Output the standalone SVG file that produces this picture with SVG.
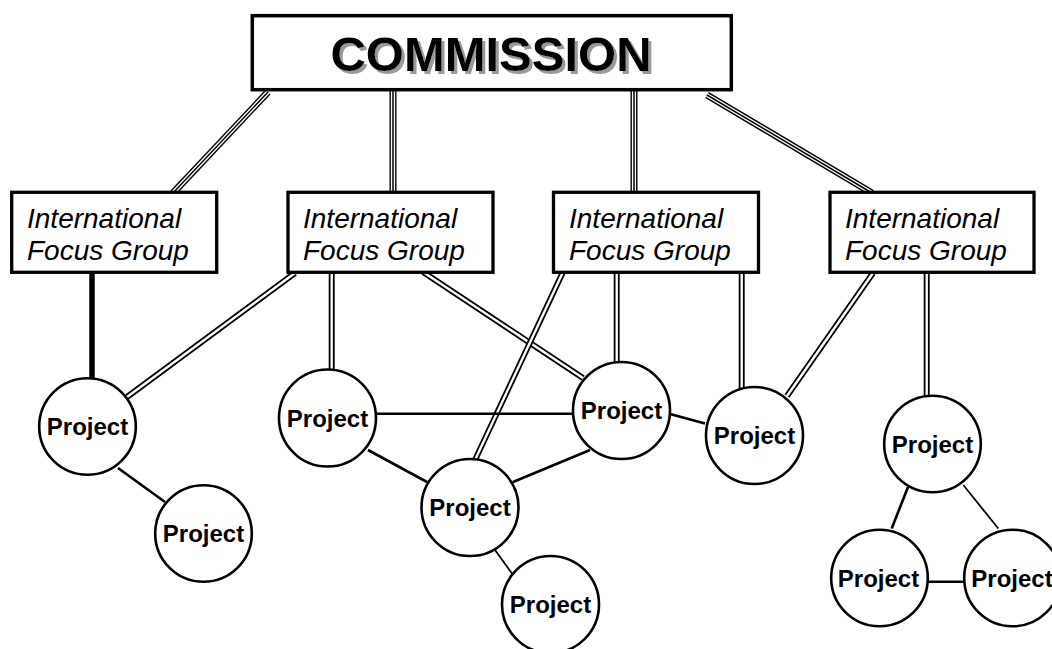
<svg xmlns="http://www.w3.org/2000/svg" width="1052" height="649" viewBox="0 0 1052 649">
<style>
  .bg{fill:#fff}
  .box{fill:#fff;stroke:#000;stroke-width:3.3}
  .circ{fill:#fff;stroke:#000;stroke-width:2.6}
  .ifg{font-family:"Liberation Sans",Arial,sans-serif;font-style:italic;font-size:28px;fill:#000}
  .proj{font-family:"Liberation Sans",Arial,sans-serif;font-weight:bold;font-size:24px;fill:#000;text-anchor:middle}
  .com{font-family:"Liberation Sans",Arial,sans-serif;font-weight:bold;font-size:49px;text-anchor:middle;fill:#000}
  .single{stroke:#000;stroke-width:2.6;fill:none}
  .thin{stroke:#000;stroke-width:1.8;fill:none}
  .thick{stroke:#000;stroke-width:5.5;fill:none}
  .d-o{stroke:#000;stroke-width:6;fill:none}
  .d-i{stroke:#fff;stroke-width:2.4;fill:none}
  .t-o{stroke:#000;stroke-width:7;fill:none}
  .t-i{stroke:#fff;stroke-width:4.2;fill:none}
  .t-c{stroke:#000;stroke-width:1.5;fill:none}
</style>
<defs>
  <filter id="shadow" x="-5%" y="-20%" width="115%" height="150%">
    <feOffset in="SourceAlpha" dx="2.5" dy="2.5" result="off"/>
    <feFlood flood-color="#9a9a9a"/>
    <feComposite in2="off" operator="in" result="sh"/>
    <feMerge><feMergeNode in="sh"/><feMergeNode in="SourceGraphic"/></feMerge>
  </filter>
</defs>
<rect class="bg" x="0" y="0" width="1052" height="649"/>
<g id="connectors">
  <g id="c-com-ifg1"><path class="t-o" d="M268,92 L173,193"/><path class="t-i" d="M268,92 L173,193"/><path class="t-c" d="M268,92 L173,193"/></g>
  <g id="c-com-ifg2"><path class="t-o" d="M393,90 L393,192"/><path class="t-i" d="M393,90 L393,192"/><path class="t-c" d="M393,90 L393,192"/></g>
  <g id="c-com-ifg3"><path class="t-o" d="M634,90 L634,192"/><path class="t-i" d="M634,90 L634,192"/><path class="t-c" d="M634,90 L634,192"/></g>
  <g id="c-com-ifg4"><path class="t-o" d="M707,95 L872,193"/><path class="t-i" d="M707,95 L872,193"/><path class="t-c" d="M707,95 L872,193"/></g>
  <path id="c-ifg1-p1" class="thick" d="M92,272 L92,380"/>
  <g id="c-ifg2-p1"><path class="d-o" d="M295,273 L127,397"/><path class="d-i" d="M295,273 L127,397"/></g>
  <g id="c-ifg2-p3"><path class="d-o" d="M331.7,272 L331.7,370"/><path class="d-i" d="M331.7,272 L331.7,370"/></g>
  <g id="c-ifg2-p4"><path class="d-o" d="M423,272 L583,378"/><path class="d-i" d="M423,272 L583,378"/></g>
  <g id="c-ifg3-p6"><path class="d-o" d="M563,272 L475,460"/><path class="d-i" d="M563,272 L475,460"/></g>
  <g id="c-ifg3-p4"><path class="d-o" d="M616.7,272 L616.7,363"/><path class="d-i" d="M616.7,272 L616.7,363"/></g>
  <g id="c-ifg3-p5"><path class="d-o" d="M741.7,272 L741.7,389"/><path class="d-i" d="M741.7,272 L741.7,389"/></g>
  <g id="c-ifg4-p5"><path class="d-o" d="M873,273 L787,396"/><path class="d-i" d="M873,273 L787,396"/></g>
  <g id="c-ifg4-p8"><path class="d-o" d="M926.7,272 L926.7,397"/><path class="d-i" d="M926.7,272 L926.7,397"/></g>
  <path id="c-p1-p2" class="single" d="M118,468 L165,502"/>
  <path id="c-p3-p4" class="single" d="M376,413.7 L572,413.7"/>
  <path id="c-p3-p6" class="single" d="M368,450 L427,482"/>
  <path id="c-p6-p4" class="single" d="M513,482 L590,450"/>
  <path id="c-p4-p5" class="single" d="M670,414 L705,423.5"/>
  <path id="c-p6-p7" class="thin" d="M495,550 L512,573.5"/>
  <path id="c-p8-p9" class="single" d="M908,487 L891.7,528.5"/>
  <path id="c-p8-p10" class="thin" d="M963.3,485 L998.3,528.5"/>
  <path id="c-p9-p10" class="single" d="M927,581.7 L965,581.7"/>
</g>
<g id="commission">
  <rect class="box" x="252.3" y="15.7" width="479" height="74" style="stroke-width:3.5"/>
  <text class="com" x="491" y="71" filter="url(#shadow)">COMMISSION</text>
</g>
<g id="ifg1">
  <rect class="box" x="11.7" y="192.3" width="205" height="80"/>
  <text class="ifg" x="27" y="228">International</text>
  <text class="ifg" x="27" y="260">Focus Group</text>
</g>
<g id="ifg2">
  <rect class="box" x="288" y="192.3" width="205" height="80"/>
  <text class="ifg" x="303" y="228">International</text>
  <text class="ifg" x="303" y="260">Focus Group</text>
</g>
<g id="ifg3">
  <rect class="box" x="553.5" y="192.3" width="205" height="80"/>
  <text class="ifg" x="569" y="228">International</text>
  <text class="ifg" x="569" y="260">Focus Group</text>
</g>
<g id="ifg4">
  <rect class="box" x="830" y="192.3" width="204" height="80"/>
  <text class="ifg" x="845" y="228">International</text>
  <text class="ifg" x="845" y="260">Focus Group</text>
</g>
<g id="p1"><circle class="circ" cx="87.5" cy="426.5" r="48.3"/><text class="proj" x="87.5" y="435">Project</text></g>
<g id="p2"><circle class="circ" cx="203.5" cy="533.5" r="48.3"/><text class="proj" x="203.5" y="542">Project</text></g>
<g id="p3"><circle class="circ" cx="327.5" cy="418" r="48.5"/><text class="proj" x="327.5" y="426.5">Project</text></g>
<g id="p4"><circle class="circ" cx="621.5" cy="410.5" r="48.5"/><text class="proj" x="621.5" y="419">Project</text></g>
<g id="p5"><circle class="circ" cx="754.5" cy="435.5" r="48.5"/><text class="proj" x="754.5" y="444">Project</text></g>
<g id="p6"><circle class="circ" cx="470" cy="507.5" r="48.5"/><text class="proj" x="470" y="516">Project</text></g>
<g id="p7"><circle class="circ" cx="550.5" cy="604.5" r="48.5"/><text class="proj" x="550.5" y="613">Project</text></g>
<g id="p8"><circle class="circ" cx="932.5" cy="444" r="48.3"/><text class="proj" x="932.5" y="452.5">Project</text></g>
<g id="p9"><circle class="circ" cx="879.5" cy="578" r="48.3"/><text class="proj" x="878.5" y="586.5">Project</text></g>
<g id="p10"><circle class="circ" cx="1012.5" cy="578" r="48.3"/><text class="proj" x="1012" y="586.5">Project</text></g>
</svg>
